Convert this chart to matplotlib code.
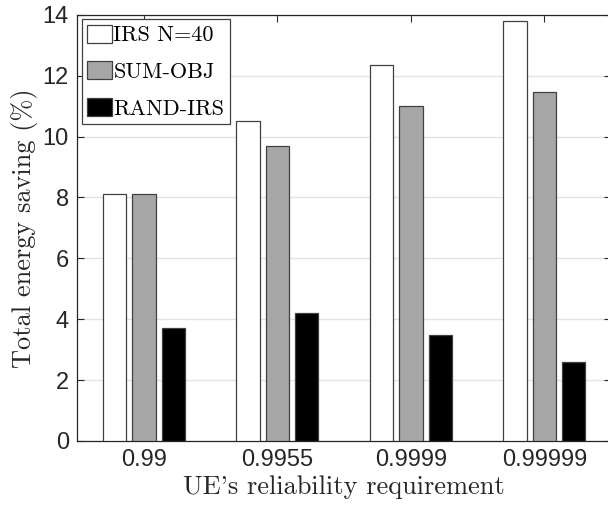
import numpy as np
import matplotlib
matplotlib.use('Agg')
import matplotlib.pyplot as plt

# Dados
requisitos = ['0.99', '0.9955', '0.9999', '0.99999']
irs_n40 = [8.12, 10.52, 12.36, 13.80]
sum_obj = [8.12, 9.69, 11.01, 11.46]
rand_irs = [3.72, 4.19, 3.48, 2.60]

series = [
    ('IRS N=40', irs_n40, 'white'),
    ('SUM-OBJ', sum_obj, '#a6a6a6'),
    ('RAND-IRS', rand_irs, 'black'),
]

fig = plt.figure(figsize=(6.08, 5.08), dpi=100)
ax = fig.add_axes([0.127, 0.132, 0.878, 0.839])

x = np.arange(1, len(requisitos) + 1)
passo = 0.22
largura = 0.175
for i, (nome, vals, cor) in enumerate(series):
    ax.bar(x + (i - 1) * passo, vals, largura, color=cor, edgecolor='#404040',
           linewidth=0.9, label=nome, zorder=3)

ax.set_xlim(0.5, 4.5)
ax.set_ylim(0, 14)
ax.set_xticks(x)
ax.set_xticklabels(requisitos)
ax.set_yticks(np.arange(0, 15, 2))
ax.tick_params(direction='in', top=True, right=True, length=5, width=0.8,
               colors='#262626', labelsize=17, pad=6)
for lab in ax.get_xticklabels() + ax.get_yticklabels():
    lab.set_family('Liberation Sans')
    lab.set_color('#262626')
for s in ax.spines.values():
    s.set_color('#262626')
    s.set_linewidth(0.9)
ax.yaxis.grid(True, color='#e3e3e3', linewidth=1.0, zorder=0)
ax.set_axisbelow(True)

ax.set_xlabel("UE's reliability requirement", family='cmr10', fontsize=19, color='#262626', labelpad=3)
ax.set_ylabel('Total energy saving (%)', family='cmr10', fontsize=19, color='#262626', labelpad=3)

leg = ax.legend(loc='upper left', prop={'family': 'cmr10', 'size': 16},
                fancybox=False, framealpha=1, edgecolor='#404040',
                handlelength=1.13, handleheight=0.86, handletextpad=0.05,
                labelspacing=0.72, borderpad=0.25, borderaxespad=0.2)
leg.get_frame().set_linewidth(0.9)

fig.savefig('out.png', dpi=100)
